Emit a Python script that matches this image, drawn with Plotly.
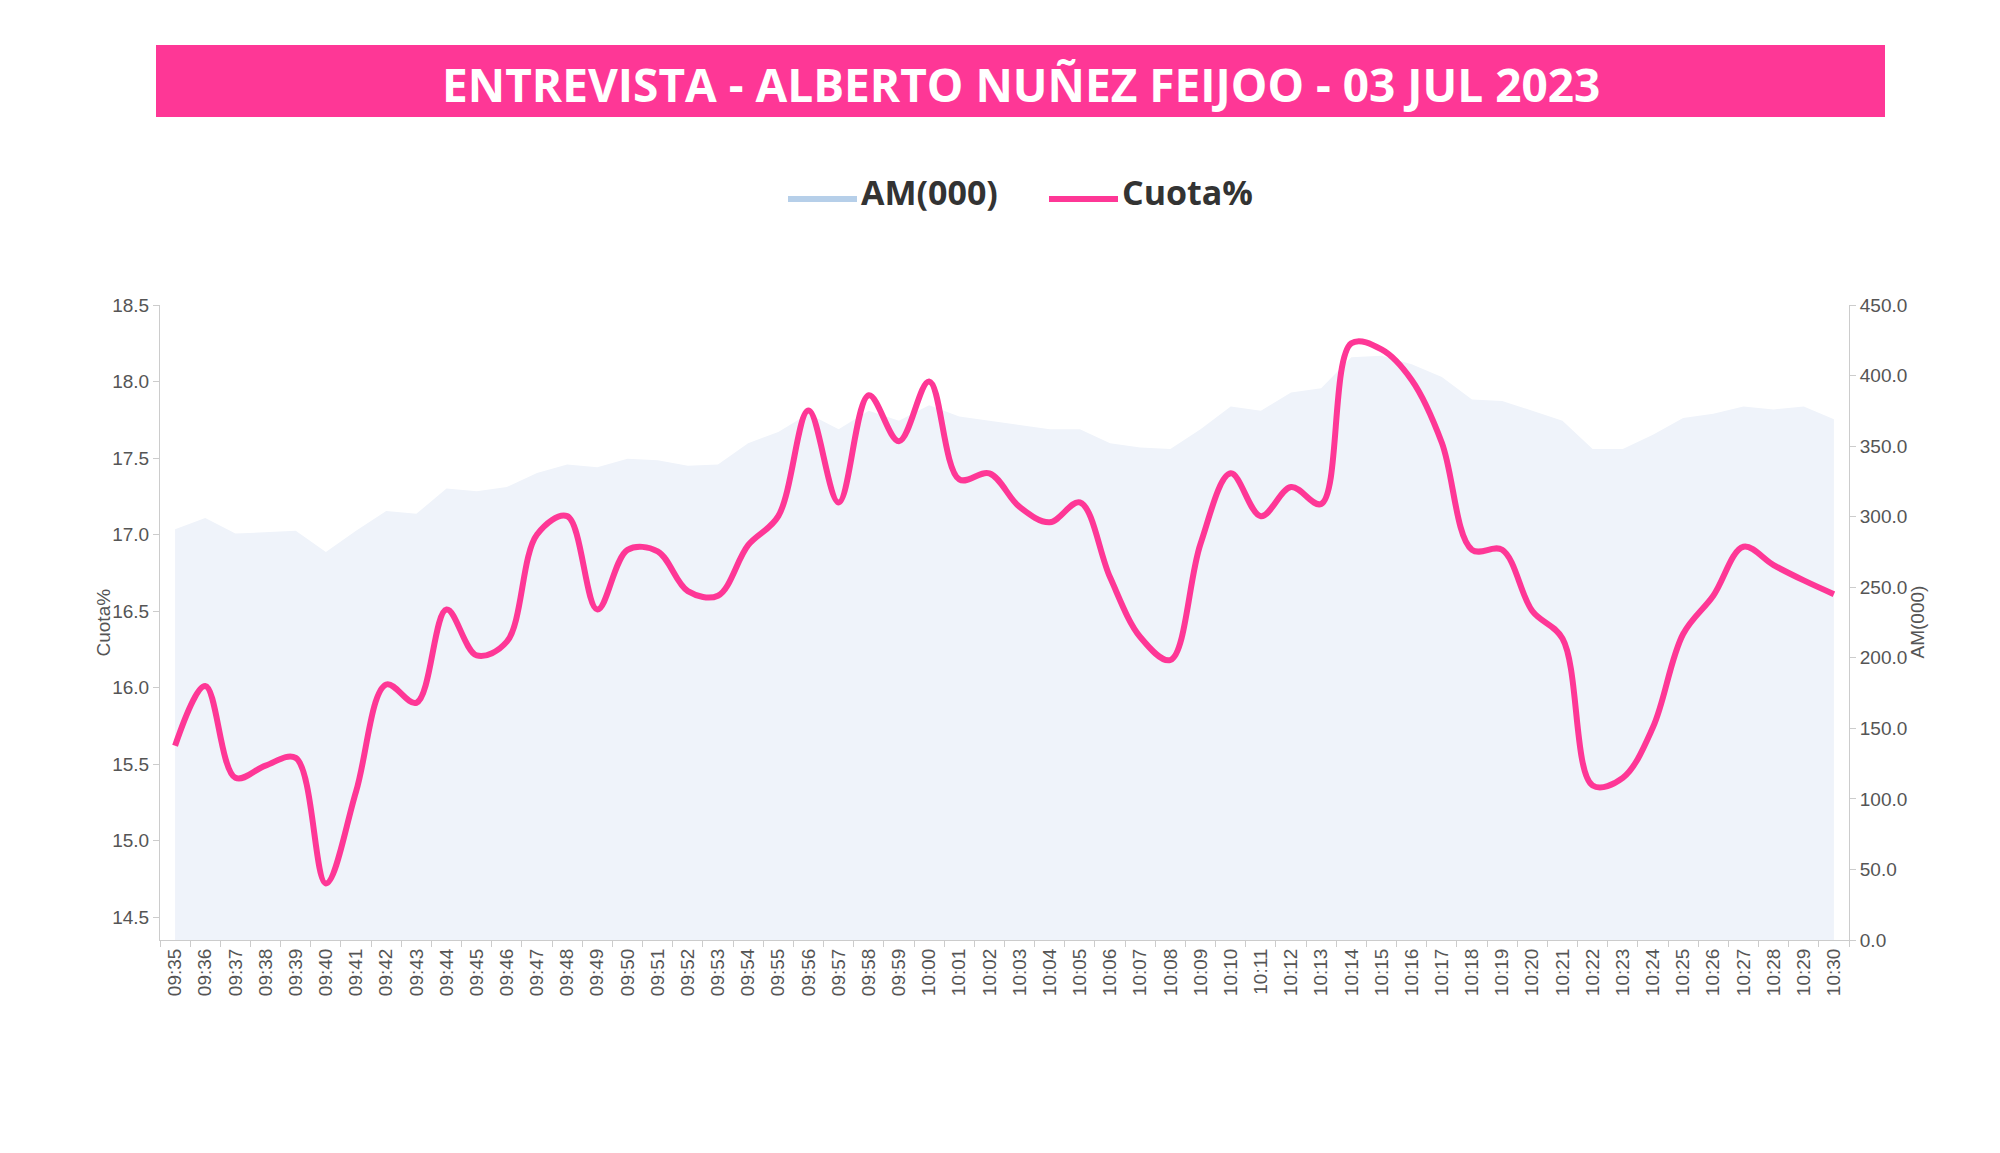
import plotly.graph_objects as go

times = ["09:35", "09:36", "09:37", "09:38", "09:39", "09:40", "09:41", "09:42", "09:43", "09:44",
         "09:45", "09:46", "09:47", "09:48", "09:49", "09:50", "09:51", "09:52", "09:53", "09:54",
         "09:55", "09:56", "09:57", "09:58", "09:59", "10:00", "10:01", "10:02", "10:03", "10:04",
         "10:05", "10:06", "10:07", "10:08", "10:09", "10:10", "10:11", "10:12", "10:13", "10:14",
         "10:15", "10:16", "10:17", "10:18", "10:19", "10:20", "10:21", "10:22", "10:23", "10:24",
         "10:25", "10:26", "10:27", "10:28", "10:29", "10:30"]

am_000 = [291, 299, 288, 289, 290, 275, 290, 304, 302, 320,
          318, 321, 331, 337, 335, 341, 340, 336, 337, 352,
          360, 373, 362, 375, 368, 379, 371, 368, 365, 362,
          362, 352, 349, 348, 362, 378, 375, 388, 391, 413,
          414, 408, 399, 383, 382, 375, 368, 348, 348, 358,
          370, 373, 378, 376, 378, 369]

cuota = [15.62, 16.01, 15.41, 15.49, 15.54, 14.72, 15.32, 16.02, 15.90, 16.51,
         16.21, 16.30, 17.00, 17.12, 16.51, 16.90, 16.89, 16.63, 16.60, 16.93,
         17.12, 17.81, 17.21, 17.91, 17.61, 18.00, 17.36, 17.40, 17.18, 17.08,
         17.21, 16.72, 16.33, 16.18, 16.94, 17.40, 17.12, 17.31, 17.20, 18.25,
         18.21, 18.01, 17.60, 16.90, 16.90, 16.50, 16.32, 15.36, 15.41, 15.74,
         16.35, 16.60, 16.92, 16.80, 16.70, 16.61]

title_text = "ENTREVISTA - ALBERTO NUÑEZ FEIJOO - 03 JUL 2023"

PINK = "#fe3796"
AM_LINE = "#b6cfe9"
AM_FILL = "#eff3fa"
AXIS = "#cccccc"
TICK_FONT = dict(family="Liberation Sans, Arial, sans-serif", size=19, color="#555555")

W, H = 2000, 1153
L, R, T, B = 160, 1849, 305, 940


def px(x):
    return (x - L) / (R - L)


def py(y):
    return (B - y) / (B - T)


fig = go.Figure()
fig.add_trace(go.Scatter(
    x=times, y=am_000, name="AM(000)", yaxis="y", mode="lines",
    line=dict(width=0, color=AM_LINE), fill="tozeroy", fillcolor=AM_FILL,
    showlegend=False, hoverinfo="x+y"))
fig.add_trace(go.Scatter(
    x=times, y=cuota, name="Cuota%", yaxis="y2", mode="lines",
    line=dict(width=6, color=PINK, shape="spline", smoothing=1.0),
    showlegend=False, hoverinfo="x+y"))

shapes = [
    dict(type="rect", xref="paper", yref="paper", x0=px(156), x1=px(1885),
         y0=py(117), y1=py(45), fillcolor=PINK, line=dict(width=0), layer="above"),
    dict(type="line", xref="paper", yref="paper", x0=px(788), x1=px(857),
         y0=py(199), y1=py(199), line=dict(width=6, color=AM_LINE)),
    dict(type="line", xref="paper", yref="paper", x0=px(1049), x1=px(1118),
         y0=py(199), y1=py(199), line=dict(width=6, color=PINK)),
]

annotations = [
    dict(text=title_text, xref="paper", yref="paper", x=px(1020.5), y=py(84),
         xanchor="center", yanchor="middle", showarrow=False,
         font=dict(family="Open Sans, sans-serif", size=46, color="white", weight=700)),
    dict(text="AM(000)", xref="paper", yref="paper", x=px(859), y=py(192),
         xanchor="left", yanchor="middle", showarrow=False,
         font=dict(family="Open Sans, sans-serif", size=34, color="#333333", weight=700)),
    dict(text="Cuota%", xref="paper", yref="paper", x=px(1120), y=py(192),
         xanchor="left", yanchor="middle", showarrow=False,
         font=dict(family="Open Sans, sans-serif", size=34, color="#333333", weight=700)),
    dict(text="Cuota%", xref="paper", yref="paper", x=px(103), y=0.5,
         xanchor="center", yanchor="middle", textangle=-90, showarrow=False,
         font=dict(family="Liberation Sans, Arial, sans-serif", size=19, color="#555555")),
    dict(text="AM(000)", xref="paper", yref="paper", x=px(1917), y=0.5,
         xanchor="center", yanchor="middle", textangle=-90, showarrow=False,
         font=dict(family="Liberation Sans, Arial, sans-serif", size=19, color="#555555")),
]

fig.update_layout(
    width=W, height=H,
    margin=dict(l=L, r=W - R, t=T, b=H - B, pad=0),
    paper_bgcolor="white", plot_bgcolor="white",
    showlegend=False,
    shapes=shapes, annotations=annotations,
    xaxis=dict(type="category", range=[-0.5, len(times) - 0.5], tickson="boundaries",
               ticks="outside", ticklen=6, tickcolor=AXIS, showline=True, linecolor=AXIS,
               linewidth=1, tickangle=-90, tickfont=TICK_FONT, showgrid=False,
               zeroline=False, fixedrange=True),
    yaxis=dict(side="right", range=[0, 450], tick0=0, dtick=50, tickformat=".1f",
               ticks="outside", ticklen=6, tickcolor=AXIS, showline=True, linecolor=AXIS,
               linewidth=1, tickfont=TICK_FONT, showgrid=False, zeroline=False),
    yaxis2=dict(overlaying="y", side="left", range=[14.35, 18.5], tick0=14.5, dtick=0.5,
                tickformat=".1f", ticks="outside", ticklen=6, tickcolor=AXIS, showline=True,
                linecolor=AXIS, linewidth=1, tickfont=TICK_FONT, showgrid=False,
                zeroline=False, anchor="x"),
)

fig.write_html("out.html")
